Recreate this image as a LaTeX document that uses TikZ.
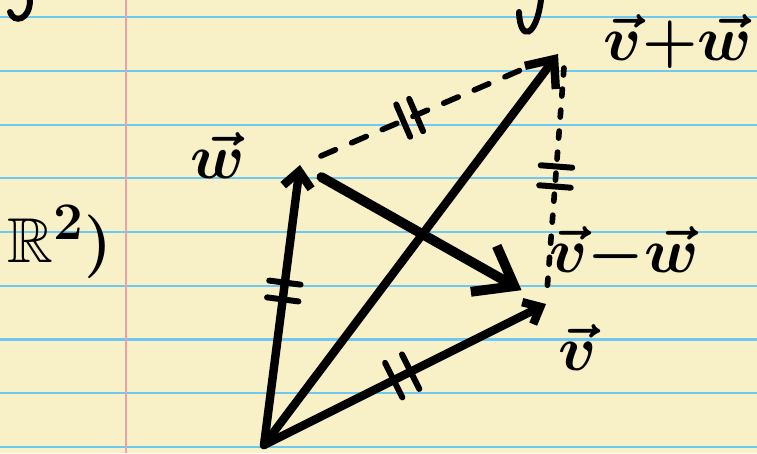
\documentclass[tikz,border=0pt]{standalone}
\usepackage{amsmath}
\usepackage{amssymb}
\usepackage{graphicx}
\usetikzlibrary{arrows.meta, calc}

\definecolor{paper}{RGB}{248,240,199}
\definecolor{ruleblue}{RGB}{110,200,240}
\definecolor{marginred}{RGB}{240,160,170}

\newcommand{\hand}[1]{\scalebox{1.45}{\Huge\boldmath$#1$}}

\begin{document}
\begin{tikzpicture}[
        x=0.02cm, y=-0.02cm,
        vec/.style={line width=4.8pt, line cap=round, line join=round},
        dashline/.style={line width=3.2pt, line cap=round, dash pattern=on 9pt off 10pt},
        tick/.style={line width=3.4pt, line cap=round},
        lbl/.style={inner sep=1pt}
    ]
        % paper
        \fill[paper] (0,0) rectangle (757,453);
        \useasboundingbox (0,0) rectangle (757,453);
        \foreach \i in {0,...,8}
            \draw[ruleblue, line width=1.2pt] (0,17.3+53.7*\i) -- (757,17.3+53.7*\i);
        \draw[marginred, line width=1.2pt] (126,0) -- (126,453);

        % leftovers of the line above
        \draw[tick] (30,0) .. controls (30,20) and (14,24) .. (10,12);
        \draw[tick] (519,12) .. controls (520,42) and (536,38) .. (541,0);

        \coordinate (O) at (264,445);
        \coordinate (W) at (300,165);
        \coordinate (V) at (546,304);
        \coordinate (S) at (558,54);

        \draw[vec, -{Straight Barb[length=9pt, width=16pt]}] (O) -- (W);
        \draw[vec, -{Straight Barb[length=8pt, width=14pt]}] (O) -- (V);
        \draw[vec, -{Straight Barb[length=13pt, width=22pt]}] (O) -- (S);
        \draw[vec, line width=5.6pt, -{Straight Barb[length=20pt, width=30pt]},
              shorten <=14pt, shorten >=16pt] (W) -- (V);
        \draw[dashline, shorten <=13pt, shorten >=20pt] (W) -- (S);
        \draw[dashline, dash pattern=on 4pt off 8pt, shorten <=8pt, shorten >=6pt]
              ([xshift=4pt]S) -- (V);

        % equal length marks
        \draw[tick] ($(O)!0.58!(W)!9pt!90:(W)$) -- ($(O)!0.58!(W)!9pt!-90:(W)$);
        \draw[tick] ($(O)!0.52!(W)!9pt!90:(W)$) -- ($(O)!0.52!(W)!9pt!-90:(W)$);
        \draw[tick] ($(O)!0.46!(V)!11pt!90:(V)$) -- ($(O)!0.46!(V)!11pt!-90:(V)$);
        \draw[tick] ($(O)!0.52!(V)!11pt!90:(V)$) -- ($(O)!0.52!(V)!11pt!-90:(V)$);
        \draw[tick] ($(W)!0.40!(S)!10pt!90:(S)$) -- ($(W)!0.40!(S)!10pt!-90:(S)$);
        \draw[tick] ($(W)!0.45!(S)!10pt!90:(S)$) -- ($(W)!0.45!(S)!10pt!-90:(S)$);
        \draw[tick] ($([xshift=4pt]S)!0.45!(V)!9pt!90:(V)$) -- ($([xshift=4pt]S)!0.45!(V)!9pt!-90:(V)$);
        \draw[tick] ($([xshift=4pt]S)!0.53!(V)!9pt!90:(V)$) -- ($([xshift=4pt]S)!0.53!(V)!9pt!-90:(V)$);

        % labels
        \node[lbl] (lw)   at (218,156) {\hand{\vec{w}}};
        \node[lbl] (lsum) at (678,42)  {\hand{\vec{v}{+}\vec{w}}};
        \node[lbl] (ldif) at (624,254) {\hand{\vec{v}{-}\vec{w}}};
        \node[lbl] (lv)   at (578,348) {\hand{\vec{v}}};
        \node[lbl] (lr)   at (60,242)  {\hand{\mathbb{R}^2)}};
    \end{tikzpicture}
\end{document}
